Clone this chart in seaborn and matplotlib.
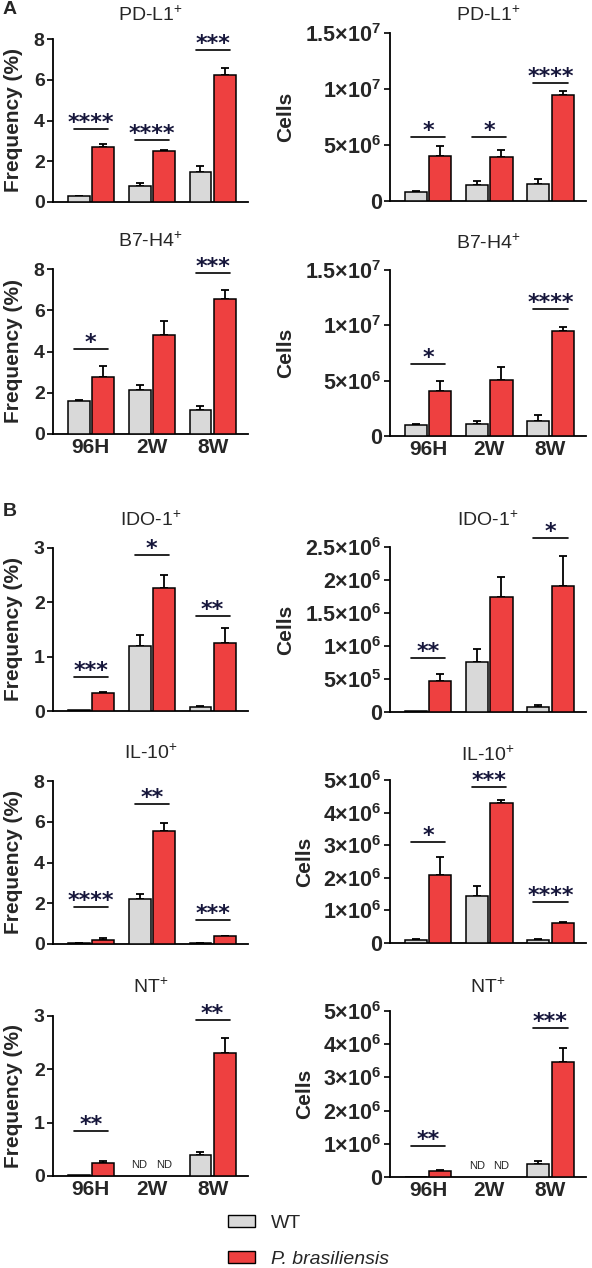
import numpy as np
import pandas as pd
import matplotlib
matplotlib.use("Agg")
import matplotlib.pyplot as plt
from matplotlib.patches import Patch
import seaborn as sns

# ---------------- data ----------------
groups = ["96H", "2W", "8W"]
hue_levels = ["WT", "P. brasiliensis"]
nan = np.nan

pdl1_freq_wt = [0.28, 0.80, 1.47]
pdl1_freq_wt_err = [0.03, 0.15, 0.30]
pdl1_freq_pb = [2.72, 2.52, 6.25]
pdl1_freq_pb_err = [0.14, 0.05, 0.35]
pdl1_cells_wt = [0.8e6, 1.43e6, 1.5e6]
pdl1_cells_wt_err = [0.12e6, 0.4e6, 0.45e6]
pdl1_cells_pb = [4.0e6, 3.9e6, 9.45e6]
pdl1_cells_pb_err = [0.9e6, 0.65e6, 0.35e6]

b7_freq_wt = [1.6, 2.13, 1.16]
b7_freq_wt_err = [0.03, 0.24, 0.2]
b7_freq_pb = [2.78, 4.78, 6.55]
b7_freq_pb_err = [0.52, 0.68, 0.45]
b7_cells_wt = [1.0e6, 1.1e6, 1.36e6]
b7_cells_wt_err = [0.07e6, 0.25e6, 0.55e6]
b7_cells_pb = [4.1e6, 5.1e6, 9.5e6]
b7_cells_pb_err = [0.85e6, 1.1e6, 0.35e6]

ido_freq_wt = [0.01, 1.2, 0.08]
ido_freq_wt_err = [0.0, 0.19, 0.02]
ido_freq_pb = [0.33, 2.27, 1.26]
ido_freq_pb_err = [0.02, 0.24, 0.26]
ido_cells_wt = [0.01e6, 0.76e6, 0.07e6]
ido_cells_wt_err = [0.0, 0.19e6, 0.03e6]
ido_cells_pb = [0.47e6, 1.74e6, 1.91e6]
ido_cells_pb_err = [0.1e6, 0.3e6, 0.45e6]

il10_freq_wt = [0.03, 2.22, 0.05]
il10_freq_wt_err = [0.01, 0.23, 0.02]
il10_freq_pb = [0.22, 5.55, 0.37]
il10_freq_pb_err = [0.05, 0.4, 0.04]
il10_cells_wt = [0.08e6, 1.44e6, 0.08e6]
il10_cells_wt_err = [0.03e6, 0.3e6, 0.03e6]
il10_cells_pb = [2.1e6, 4.28e6, 0.6e6]
il10_cells_pb_err = [0.53e6, 0.12e6, 0.04e6]

nt_freq_wt = [0.01, nan, 0.4]
nt_freq_wt_err = [0.0, nan, 0.05]
nt_freq_pb = [0.25, nan, 2.3]
nt_freq_pb_err = [0.04, nan, 0.28]
nt_cells_wt = [0.01e6, nan, 0.4e6]
nt_cells_wt_err = [0.0, nan, 0.07e6]
nt_cells_pb = [0.17e6, nan, 3.47e6]
nt_cells_pb_err = [0.03e6, nan, 0.41e6]

# significance: (group index, bar line y, stars)
pdl1_freq_sig = [(0, 3.58, "****"), (1, 3.04, "****"), (2, 7.46, "***")]
pdl1_cells_sig = [(0, 5.7e6, "*"), (1, 5.7e6, "*"), (2, 10.5e6, "****")]
b7_freq_sig = [(0, 4.12, "*"), (2, 7.8, "***")]
b7_cells_sig = [(0, 6.5e6, "*"), (2, 11.5e6, "****")]
ido_freq_sig = [(0, 0.62, "***"), (1, 2.88, "*"), (2, 1.75, "**")]
ido_cells_sig = [(0, 0.82e6, "**"), (2, 2.64e6, "*")]
il10_freq_sig = [(0, 1.8, "****"), (1, 6.85, "**"), (2, 1.18, "***")]
il10_cells_sig = [(0, 3.1e6, "*"), (1, 4.8e6, "***"), (2, 1.25e6, "****")]
nt_freq_sig = [(0, 0.85, "**"), (2, 2.92, "**")]
nt_cells_sig = [(0, 0.93e6, "**"), (2, 4.5e6, "***")]

titles = ["PD-L1$^{+}$", "B7-H4$^{+}$", "IDO-1$^{+}$", "IL-10$^{+}$", "NT$^{+}$"]

freq_ticks_8 = [0, 2, 4, 6, 8]
freq_ticks_3 = [0, 1, 2, 3]
cells_ticks_15e6 = [0, 5e6, 1e7, 1.5e7]
cells_labels_15e6 = ["0", r"$\mathbf{5{\times}10^{6}}$", r"$\mathbf{1{\times}10^{7}}$", r"$\mathbf{1.5{\times}10^{7}}$"]
cells_ticks_25e5 = [0, 5e5, 1e6, 1.5e6, 2e6, 2.5e6]
cells_labels_25e5 = ["0", r"$\mathbf{5{\times}10^{5}}$", r"$\mathbf{1{\times}10^{6}}$", r"$\mathbf{1.5{\times}10^{6}}$",
                     r"$\mathbf{2{\times}10^{6}}$", r"$\mathbf{2.5{\times}10^{6}}$"]
cells_ticks_5e6 = [0, 1e6, 2e6, 3e6, 4e6, 5e6]
cells_labels_5e6 = ["0", r"$\mathbf{1{\times}10^{6}}$", r"$\mathbf{2{\times}10^{6}}$", r"$\mathbf{3{\times}10^{6}}$",
                    r"$\mathbf{4{\times}10^{6}}$", r"$\mathbf{5{\times}10^{6}}$"]

# ---------------- style ----------------
sns.set_theme(style="ticks")
plt.rcParams["font.family"] = ["Liberation Sans", "DejaVu Sans"]
plt.rcParams["mathtext.fontset"] = "custom"
plt.rcParams["mathtext.rm"] = "Liberation Sans"
plt.rcParams["mathtext.bf"] = "Liberation Sans:bold"
plt.rcParams["mathtext.it"] = "Liberation Sans:italic"

GRAY = "#D9D9D9"
RED = "#EE4040"
STAR = "#15153a"
palette = {"WT": GRAY, "P. brasiliensis": RED}

W, H = 592, 1268
fig = plt.figure(figsize=(W / 100, H / 100), dpi=100)


def add_ax(x0, x1, y0, y1):
    return fig.add_axes([x0 / W, 1 - y1 / H, (x1 - x0) / W, (y1 - y0) / H])


def panel(ax, wt, wt_err, pb, pb_err, sig, ylim, ticks, ticklabels, show_x, title, title_y,
          ylabel, ylabel_x, tick_fs):
    df = pd.DataFrame({
        "time": groups * 2,
        "group": ["WT"] * 3 + ["P. brasiliensis"] * 3,
        "value": list(wt) + list(pb),
    })
    errs = {("WT", i): e for i, e in enumerate(wt_err)}
    errs.update({("P. brasiliensis", i): e for i, e in enumerate(pb_err)})
    sns.barplot(data=df, x="time", y="value", hue="group", order=groups, hue_order=hue_levels,
                palette=palette, errorbar=None, saturation=1, edgecolor="black", linewidth=1.1,
                width=0.8, gap=0.1, legend=False, ax=ax, zorder=3)
    for p in list(ax.patches):
        cx = p.get_x() + p.get_width() / 2
        h = p.get_height()
        if not np.isfinite(h):
            continue
        cat = int(round(cx))
        hue = "WT" if cx < cat else "P. brasiliensis"
        e = errs[(hue, cat)]
        if np.isfinite(e) and e > 0:
            ax.errorbar([cx], [h], yerr=[[0], [e]], fmt="none", ecolor="black",
                        elinewidth=1.3, capsize=3, capthick=1.3, zorder=2)
    # ND labels
    for i in range(3):
        for hue, off in (("WT", -0.2), ("P. brasiliensis", 0.2)):
            v = wt[i] if hue == "WT" else pb[i]
            if not np.isfinite(v):
                ax.annotate("ND", xy=(i + off, 0), xytext=(0, 4), textcoords="offset points",
                            ha="center", va="bottom", fontsize=8)
    # significance
    for g, ly, stars in sig:
        ax.plot([g - 0.28, g + 0.28], [ly, ly], color="black", lw=1.2, clip_on=False, zorder=4)
        ax.annotate(stars, xy=(g, ly), xytext=(0, 0), textcoords="offset points",
                    ha="center", va="baseline", fontsize=16, fontweight="bold",
                    family="DejaVu Sans", color=STAR, annotation_clip=False)
    ax.set_xlim(-0.62, 2.58)
    ax.set_ylim(*ylim)
    ax.set_yticks(ticks)
    ax.set_yticklabels(ticklabels, fontsize=tick_fs, fontweight="bold")
    ax.set_xlabel("")
    ax.set_ylabel("")
    ax.tick_params(axis="y", length=4, width=1.2, pad=2, color="black")
    ax.tick_params(axis="x", length=0, pad=3)
    if show_x:
        ax.set_xticklabels(groups, fontsize=15, fontweight="bold")
    else:
        ax.set_xticklabels([])
    for s in ("top", "right"):
        ax.spines[s].set_visible(False)
    for s in ("left", "bottom"):
        ax.spines[s].set_linewidth(1.3)
        ax.spines[s].set_color("black")
    ax.set_facecolor("white")
    pos = ax.get_position()
    fig.text(pos.x0 + pos.width / 2, 1 - title_y / H, title, ha="center", va="center", fontsize=14)
    fig.text(ylabel_x / W, pos.y0 + pos.height / 2, ylabel, rotation=90, ha="center", va="center",
             fontsize=15, fontweight="bold")


LX0, LX1 = 53, 248
RX0, RX1 = 390, 586

rows = [
    dict(l=(39, 202), r=(33, 201), lt=15, rt=15, showx=False,
         lf=(pdl1_freq_wt, pdl1_freq_wt_err, pdl1_freq_pb, pdl1_freq_pb_err, pdl1_freq_sig, (0, 8), freq_ticks_8, [str(t) for t in freq_ticks_8]),
         rc=(pdl1_cells_wt, pdl1_cells_wt_err, pdl1_cells_pb, pdl1_cells_pb_err, pdl1_cells_sig, (0, 1.5e7), cells_ticks_15e6, cells_labels_15e6),
         cx=286),
    dict(l=(269, 434), r=(270, 436), lt=241, rt=243, showx=True,
         lf=(b7_freq_wt, b7_freq_wt_err, b7_freq_pb, b7_freq_pb_err, b7_freq_sig, (0, 8), freq_ticks_8, [str(t) for t in freq_ticks_8]),
         rc=(b7_cells_wt, b7_cells_wt_err, b7_cells_pb, b7_cells_pb_err, b7_cells_sig, (0, 1.5e7), cells_ticks_15e6, cells_labels_15e6),
         cx=286),
    dict(l=(548, 711), r=(547, 712), lt=520, rt=520, showx=False,
         lf=(ido_freq_wt, ido_freq_wt_err, ido_freq_pb, ido_freq_pb_err, ido_freq_sig, (0, 3), freq_ticks_3, [str(t) for t in freq_ticks_3]),
         rc=(ido_cells_wt, ido_cells_wt_err, ido_cells_pb, ido_cells_pb_err, ido_cells_sig, (0, 2.5e6), cells_ticks_25e5, cells_labels_25e5),
         cx=286),
    dict(l=(781, 944), r=(780, 943), lt=753, rt=755, showx=False,
         lf=(il10_freq_wt, il10_freq_wt_err, il10_freq_pb, il10_freq_pb_err, il10_freq_sig, (0, 8), freq_ticks_8, [str(t) for t in freq_ticks_8]),
         rc=(il10_cells_wt, il10_cells_wt_err, il10_cells_pb, il10_cells_pb_err, il10_cells_sig, (0, 5e6), cells_ticks_5e6, cells_labels_5e6),
         cx=305),
    dict(l=(1016, 1176), r=(1011, 1177), lt=987, rt=987, showx=True,
         lf=(nt_freq_wt, nt_freq_wt_err, nt_freq_pb, nt_freq_pb_err, nt_freq_sig, (0, 3), freq_ticks_3, [str(t) for t in freq_ticks_3]),
         rc=(nt_cells_wt, nt_cells_wt_err, nt_cells_pb, nt_cells_pb_err, nt_cells_sig, (0, 5e6), cells_ticks_5e6, cells_labels_5e6),
         cx=305),
]

for k, row in enumerate(rows):
    axl = add_ax(LX0, LX1, *row["l"])
    panel(axl, *row["lf"], show_x=row["showx"], title=titles[k], title_y=row["lt"],
          ylabel="Frequency (%)", ylabel_x=14, tick_fs=14)
    axr = add_ax(RX0, RX1, *row["r"])
    panel(axr, *row["rc"], show_x=row["showx"], title=titles[k], title_y=row["rt"],
          ylabel="Cells", ylabel_x=row["cx"], tick_fs=15.5)

fig.text(3 / W, 1 - 10 / H, "A", fontsize=14, fontweight="bold", ha="left", va="center")
fig.text(3 / W, 1 - 512 / H, "B", fontsize=14, fontweight="bold", ha="left", va="center")

handles = [Patch(facecolor=GRAY, edgecolor="black", linewidth=1, label="WT"),
           Patch(facecolor=RED, edgecolor="black", linewidth=1, label="P. brasiliensis")]
leg = fig.legend(handles=handles, loc="upper left", bbox_to_anchor=(228 / W, 1 - 1215 / H),
                 frameon=False, fontsize=14, handlelength=1.4, handleheight=0.6,
                 handletextpad=0.8, labelspacing=0.95, borderaxespad=0, borderpad=0)
leg.get_texts()[1].set_style("italic")

fig.savefig("out.png", dpi=100, facecolor="white")
